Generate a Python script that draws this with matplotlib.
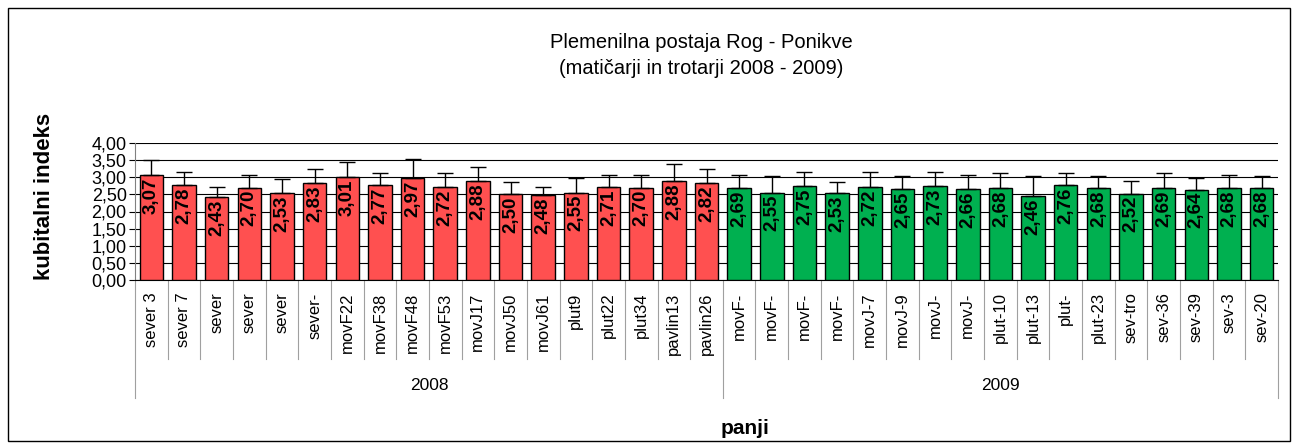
import matplotlib
matplotlib.use("Agg")
import matplotlib.pyplot as plt
from matplotlib.patches import Rectangle
from matplotlib.ticker import FuncFormatter
import numpy as np

plt.rcParams["font.family"] = ["Liberation Sans", "DejaVu Sans"]

# --- Data --------------------------------------------------------------------
labels_2008 = ["sever 3", "sever 7", "sever", "sever", "sever", "sever-", "movF22", "movF38",
               "movF48", "movF53", "movJ17", "movJ50", "movJ61", "plut9", "plut22", "plut34",
               "pavlin13", "pavlin26"]
values_2008 = [3.07, 2.78, 2.43, 2.70, 2.53, 2.83, 3.01, 2.77, 2.97, 2.72, 2.88, 2.50, 2.48,
               2.55, 2.71, 2.70, 2.88, 2.82]
errors_2008 = [0.43, 0.37, 0.29, 0.38, 0.41, 0.41, 0.44, 0.34, 0.57, 0.39, 0.41, 0.36, 0.24,
               0.44, 0.37, 0.38, 0.50, 0.42]

labels_2009 = ["movF-", "movF-", "movF-", "movF-", "movJ-7", "movJ-9", "movJ-", "movJ-",
               "plut-10", "plut-13", "plut-", "plut-23", "sev-tro", "sev-36", "sev-39", "sev-3",
               "sev-20"]
values_2009 = [2.69, 2.55, 2.75, 2.53, 2.72, 2.65, 2.73, 2.66, 2.68, 2.46, 2.76, 2.68, 2.52,
               2.69, 2.64, 2.68, 2.68]
errors_2009 = [0.39, 0.48, 0.41, 0.33, 0.44, 0.38, 0.43, 0.42, 0.43, 0.57, 0.35, 0.35, 0.38,
               0.42, 0.35, 0.40, 0.35]

groups = ["2008", "2009"]
yticks = [0.0, 0.5, 1.0, 1.5, 2.0, 2.5, 3.0, 3.5, 4.0]

RED = "#FF5050"
GREEN = "#00B050"

labels = labels_2008 + labels_2009
values = values_2008 + values_2009
errors = errors_2008 + errors_2009
colors = [RED] * len(values_2008) + [GREEN] * len(values_2009)
x = np.arange(len(values))

fig = plt.figure(figsize=(12.94, 4.47), dpi=100)
ax = fig.add_axes([135 / 1294, 1 - 280 / 447, (1278 - 135) / 1294, 137 / 447])

ax.bar(x, values, width=0.72, color=colors, edgecolor="black", linewidth=1.0, zorder=3)
ax.errorbar(x, values, yerr=[np.zeros(len(errors)), errors], fmt="none", ecolor="black",
            elinewidth=1.0, capsize=6, capthick=1.0, zorder=4)

for xi, v in zip(x, values):
    ax.text(xi, v - 0.07, f"{v:.2f}".replace(".", ","), rotation=90, ha="center", va="top",
            fontsize=13.5, fontweight="bold", zorder=5)

ax.set_xlim(-0.5, len(values) - 0.5)
ax.set_ylim(0, 4)
ax.set_yticks(yticks)
ax.yaxis.set_major_formatter(FuncFormatter(lambda v, _: f"{v:.2f}".replace(".", ",")))
ax.tick_params(axis="y", labelsize=13, length=4, direction="out", pad=2)
ax.set_xticks([])
ax.grid(axis="y", color="black", linewidth=0.8, zorder=0)
for s in ["top", "right"]:
    ax.spines[s].set_visible(False)
ax.spines["left"].set_color("#808080")
ax.spines["bottom"].set_color("black")

# category labels and separators below the axis
tr = ax.get_xaxis_transform()
for xi, lab in zip(x, labels):
    ax.text(xi, -0.09, lab, rotation=90, ha="center", va="top", fontsize=12,
            transform=tr)
n08 = len(values_2008)
for b in range(len(values) + 1):
    edge = b - 0.5
    bottom = -0.86 if b in (0, n08, len(values)) else -0.58
    ax.plot([edge, edge], [0, bottom], color="#A0A0A0", lw=0.8, transform=tr, clip_on=False)
ax.text((n08 - 1) / 2, -0.77, groups[0], ha="center", va="center", fontsize=12.5,
        transform=tr)
ax.text((n08 + len(values) - 1) / 2, -0.77, groups[1], ha="center", va="center",
        fontsize=12.5, transform=tr)

fig.text(701 / 1294, 1 - 43 / 447, "Plemenilna postaja Rog - Ponikve", ha="center",
         va="center", fontsize=14.5)
fig.text(701 / 1294, 1 - 68 / 447, "(matičarji in trotarji 2008 - 2009)", ha="center",
         va="center", fontsize=14.5)
fig.text(45 / 1294, 1 - 196 / 447, "kubitalni indeks", rotation=90, ha="center", va="center",
         fontsize=16, fontweight="bold")
fig.text(745 / 1294, 1 - 429 / 447, "panji", ha="center", va="center", fontsize=15,
         fontweight="bold")

fig.patches.append(Rectangle((8 / 1294, 6 / 447), 1282 / 1294, 433 / 447, fill=False,
                             edgecolor="black", linewidth=1.0, transform=fig.transFigure))

fig.savefig("out.png", dpi=100)
